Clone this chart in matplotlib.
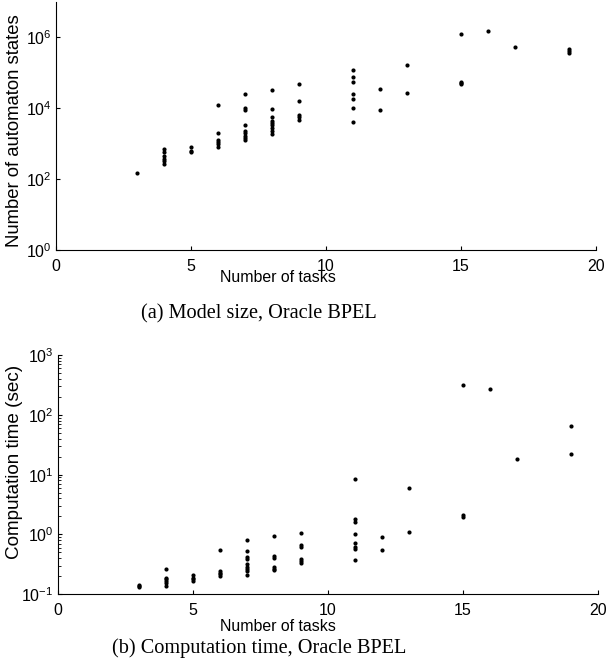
import matplotlib
matplotlib.use("Agg")
import matplotlib.pyplot as plt
from matplotlib.ticker import FixedLocator, LogLocator, NullLocator, NullFormatter

plt.rcParams.update({"font.family": "Liberation Sans", "font.size": 11,
                     "axes.linewidth": 0.8, "xtick.direction": "in",
                     "ytick.direction": "in"})

# (a) model size: number of tasks vs automaton states
size_tasks = [3,
              4, 4, 4, 4, 4, 4,
              5, 5, 5,
              6, 6, 6, 6, 6, 6,
              7, 7, 7, 7, 7, 7, 7, 7, 7,
              8, 8, 8, 8, 8, 8, 8, 8, 8,
              9, 9, 9, 9, 9,
              11, 11, 11, 11, 11, 11, 11,
              12, 12,
              13, 13,
              15, 15, 15, 15,
              16,
              17,
              19, 19, 19]
size_states = [152,
               710, 600, 460, 370, 325, 265,
               815, 630, 575,
               12000, 2050, 1290, 1150, 980, 830,
               25700, 10000, 8700, 3300, 2300, 2000, 1700, 1480, 1290,
               33000, 9800, 5500, 4500, 3950, 3400, 2850, 2300, 1900,
               50000, 16500, 6600, 5850, 4700,
               123000, 76000, 55000, 25700, 18200, 10500, 4050,
               36000, 8700,
               168000, 26700,
               1260000, 56000, 51000, 48000,
               1480000,
               550000,
               485000, 425000, 375000]

# (b) computation time in seconds
time_tasks = [3, 3, 3,
              4, 4, 4, 4, 4, 4,
              5, 5, 5, 5,
              6, 6, 6, 6, 6,
              7, 7, 7, 7, 7, 7, 7, 7, 7,
              8, 8, 8, 8, 8, 8,
              9, 9, 9, 9, 9, 9,
              11, 11, 11, 11, 11, 11, 11, 11,
              12, 12,
              13, 13,
              15, 15, 15,
              16,
              17,
              19, 19]
time_sec = [0.143, 0.138, 0.134,
            0.261, 0.19, 0.178, 0.167, 0.157, 0.138,
            0.207, 0.19, 0.178, 0.167,
            0.56, 0.245, 0.23, 0.215, 0.2,
            0.80, 0.53, 0.42, 0.39, 0.32, 0.29, 0.27, 0.25, 0.21,
            0.93, 0.435, 0.40, 0.29, 0.27, 0.255,
            1.07, 0.68, 0.615, 0.39, 0.36, 0.33,
            8.5, 1.82, 1.61, 1.0, 0.73, 0.62, 0.58, 0.37,
            0.90, 0.56,
            6.07, 1.11,
            312, 2.13, 1.97,
            268,
            18.3,
            64, 22.1]

x_ticks = [0, 5, 10, 15, 20]

fig = plt.figure(figsize=(6.09, 6.71), dpi=100)
ax1 = fig.add_axes([0.092, 0.6274, 0.8867, 0.3696])
ax2 = fig.add_axes([0.0947, 0.1143, 0.8867, 0.3566])


def style(ax):
    for s in ("top", "right"):
        ax.spines[s].set_visible(False)
    ax.set_xlim(0, 20)
    ax.set_xticks(x_ticks)
    ax.tick_params(axis="both", which="major", length=3, width=0.8,
                   labelsize=11.5, colors="black")
    ax.tick_params(axis="x", pad=6.5)
    ax.tick_params(axis="y", pad=3)
    ax.tick_params(axis="y", which="minor", length=1.8, width=0.6)


ax1.plot(size_tasks, size_states, "o", color="black", ms=3, mec="none")
ax1.set_yscale("log")
ax1.set_ylim(1, 1e7)
ax1.yaxis.set_major_locator(FixedLocator([1, 1e2, 1e4, 1e6]))
ax1.yaxis.set_minor_locator(NullLocator())
style(ax1)

ax2.plot(time_tasks, time_sec, "o", color="black", ms=3, mec="none")
ax2.set_yscale("log")
ax2.set_ylim(0.1, 1000)
ax2.yaxis.set_major_locator(LogLocator(base=10, numticks=10))
ax2.yaxis.set_minor_locator(LogLocator(base=10, subs=range(2, 10), numticks=20))
ax2.yaxis.set_minor_formatter(NullFormatter())
style(ax2)

# axis labels and captions, placed as in the original layout
fig.text(0.4565, 0.5857, "Number of tasks", ha="center", va="center", fontsize=11.4)
fig.text(0.0246, 0.806, "Number of automaton states", ha="center", va="center",
         rotation=90, fontsize=13.3)
fig.text(0.4253, 0.5320, "(a) Model size, Oracle BPEL", ha="center", va="center",
         fontsize=14.6, family="Liberation Serif")

fig.text(0.4565, 0.0656, "Number of tasks", ha="center", va="center", fontsize=11.4)
fig.text(0.0246, 0.3115, "Computation time (sec)", ha="center", va="center",
         rotation=90, fontsize=13.6)
fig.text(0.4253, 0.0340, "(b) Computation time, Oracle BPEL", ha="center", va="center",
         fontsize=14.6, family="Liberation Serif")

fig.savefig("out.png", dpi=100)
